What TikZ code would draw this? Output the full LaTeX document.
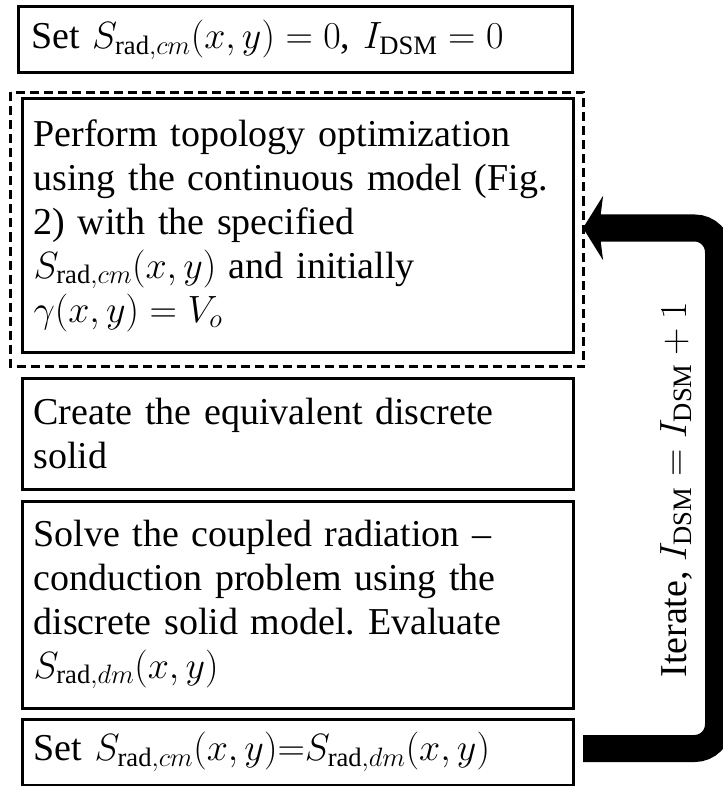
\RequirePackage{fix-cm}
\documentclass[tikz,border=0pt]{standalone}
\usepackage{fontspec}
\setmainfont{Liberation Serif}
\usetikzlibrary{arrows.meta,calc}
\tikzset{
  stepbox/.style={rectangle,draw,line width=3pt,minimum width=551pt,text width=528pt,
    inner xsep=0pt,align=left,font=\fontsize{38}{44}\selectfont\frenchspacing},
  loopbox/.style={draw,line width=2.5pt,dash pattern=on 9pt off 5pt},
  looparrow/.style={line width=27pt,rounded corners=24pt,
    -{Stealth[length=20pt,width=64pt,inset=4pt]}},
  itertext/.style={rotate=90,font=\fontsize{38}{44}\selectfont}
}

\begin{document}
\begin{tikzpicture}[x=1pt,y=-1pt]
\useasboundingbox (0,0) rectangle (722,786);
\node[stepbox,minimum width=554pt,minimum height=66pt] (B1) at (295,40)
  {Set $S_{\mathrm{rad},cm}(x,y) = 0$, $I_{\mathrm{DSM}} = 0$};
\node[stepbox,minimum height=253pt] (B2) at (297.5,225.5)
  {Perform topology optimization\\ using the continuous model (Fig.\\ 2) with the specified\\
   $S_{\mathrm{rad},cm}(x,y)$ and initially\\ $\gamma(x,y) = V_o$};
\node[stepbox,minimum height=111pt] (B3) at (297.5,433.5)
  {Create the equivalent discrete\\ solid};
\node[stepbox,minimum height=207pt] (B4) at (297.5,604.5)
  {Solve the coupled radiation --\\ conduction problem using the\\ discrete solid model. Evaluate\\
   $S_{\mathrm{rad},dm}(x,y)$};
\node[stepbox,minimum height=66pt] (B5) at (297.5,752)
  {Set $S_{\mathrm{rad},cm}(x,y){=}S_{\mathrm{rad},dm}(x,y)$};
% dashed frame round the optimization step
\draw[loopbox] ($(B2.north west)+(-10,-5)$) rectangle ($(B2.south east)+(9,13)$);
% iteration loop
\coordinate (tail) at (583,748.5);
\coordinate (rail) at (718.5,490);
\coordinate (tip) at (583,228);
\draw[looparrow] (tail) -| (rail) |- (tip);
\node[itertext] (iter) at (676,490) {Iterate, $I_{\mathrm{DSM}} = I_{\mathrm{DSM}} + 1$};
\end{tikzpicture}
\end{document}
